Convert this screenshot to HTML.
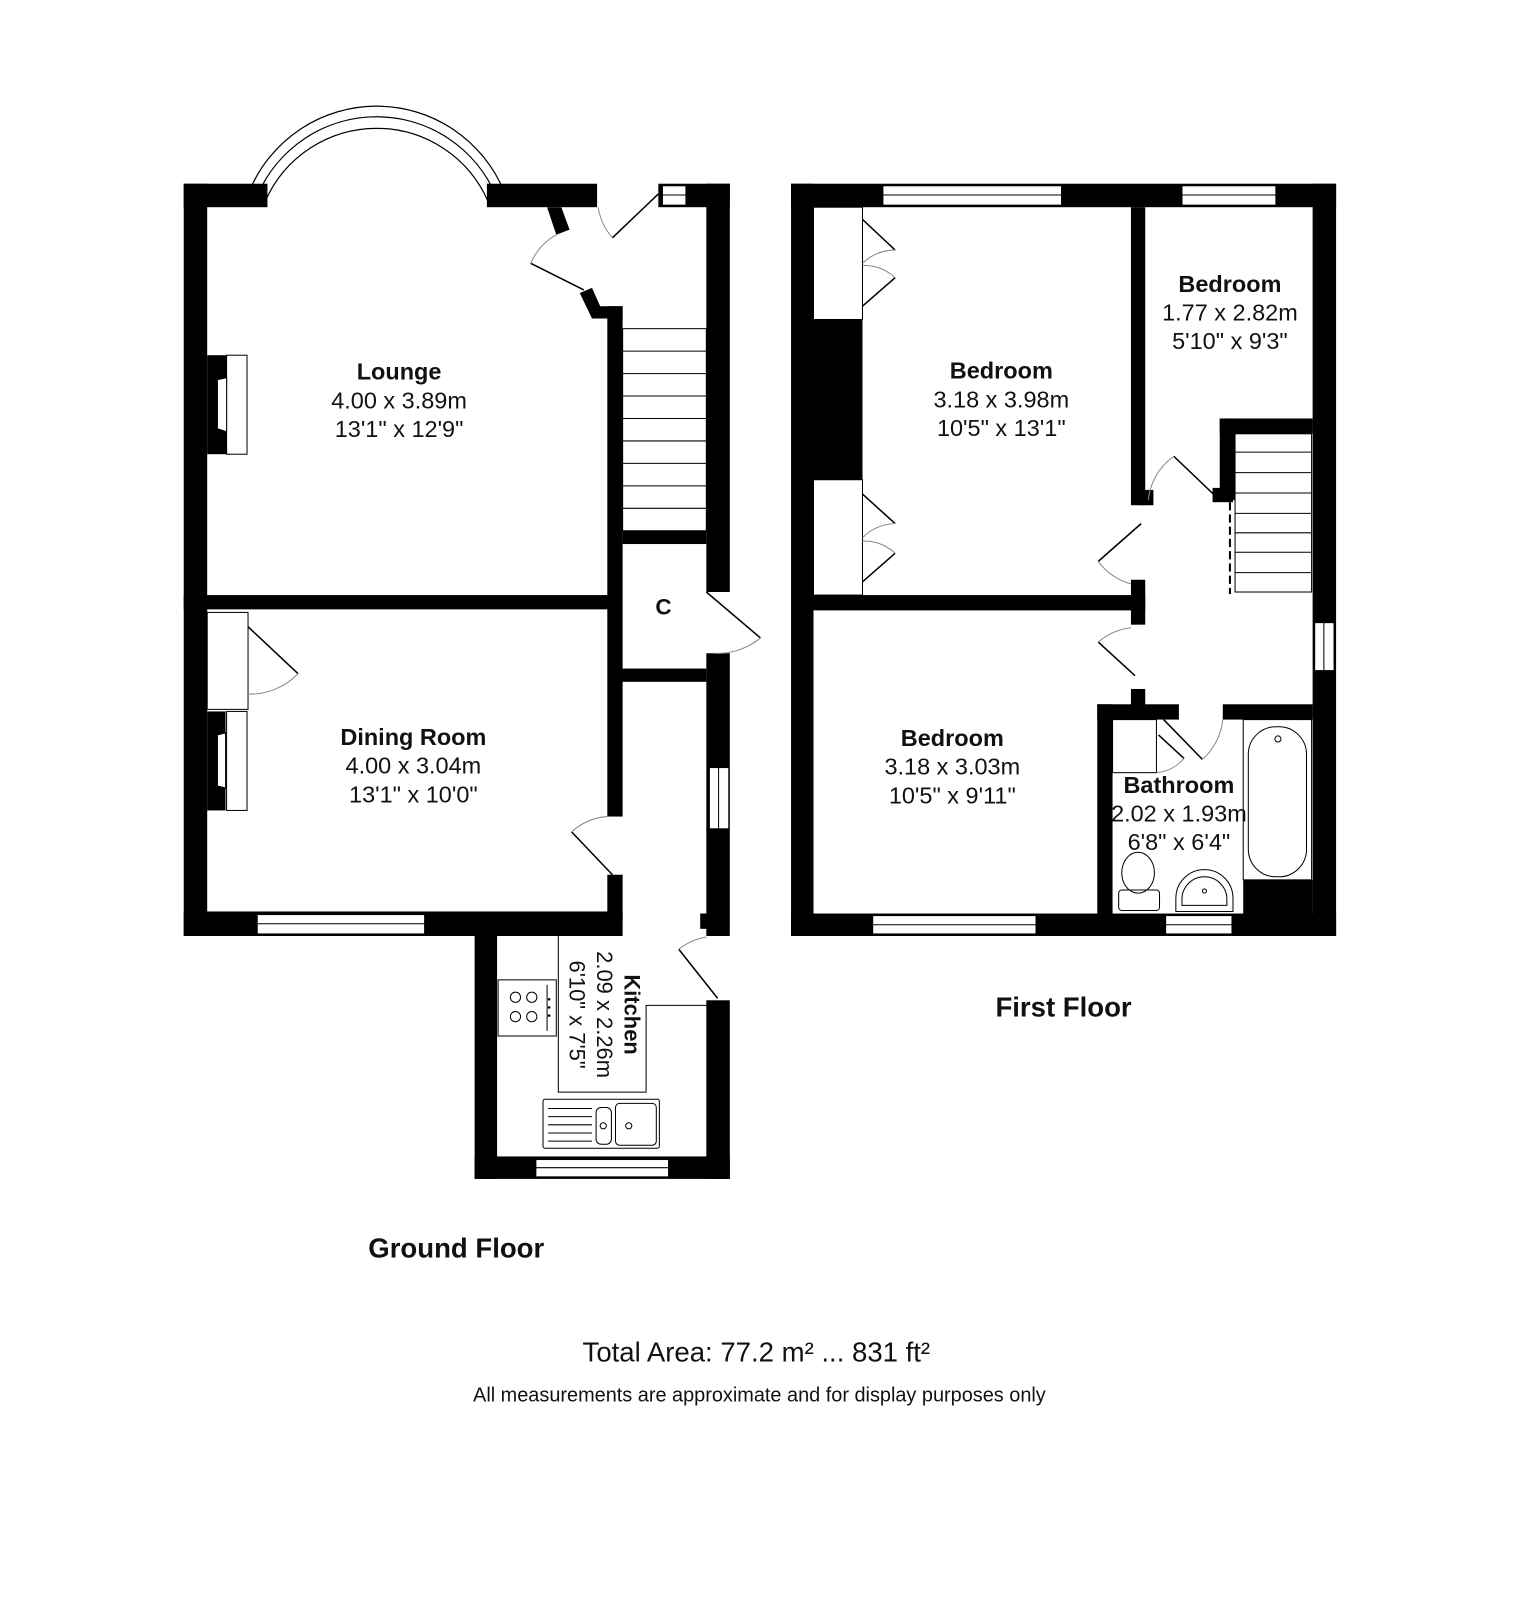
<!DOCTYPE html>
<html><head><meta charset="utf-8"><style>
html,body{margin:0;padding:0;background:#fff;}
svg{display:block;}
text{font-family:"Liberation Sans",Arial,sans-serif;fill:#111;}
.b{font-weight:bold;}
</style></head><body>
<svg width="1519" height="1600" viewBox="0 0 1519 1600" xmlns="http://www.w3.org/2000/svg">
<g transform="scale(1.0207)">
<!-- ================= GROUND FLOOR ================= -->
<g fill="#000">
<rect x="180" y="180" width="23" height="737"/>
<rect x="180" y="180" width="82" height="23"/>
<rect x="477" y="180" width="108" height="23"/>
<rect x="645" y="180" width="70" height="23"/>
<rect x="692" y="180" width="23" height="400"/>
<polygon points="536,203 550,203 558,225 545,230"/>
<polygon points="568,287 580,282 588,300 610,300 610,312 580,312"/>
<rect x="595" y="300" width="15" height="500"/>
<rect x="610" y="520" width="82" height="13"/>
<rect x="597" y="655" width="95" height="13"/>
<rect x="692" y="640" width="23" height="277"/>
<rect x="686" y="895" width="8" height="15"/>
<rect x="595" y="857" width="15" height="45"/>
<rect x="180" y="893" width="430" height="24"/>
<rect x="465" y="910" width="22" height="245"/>
<rect x="465" y="1133" width="250" height="22"/>
<rect x="692" y="980" width="23" height="175"/>
<rect x="180" y="583" width="429" height="14"/>
<rect x="203" y="348" width="20" height="97"/>
<rect x="203" y="697" width="18" height="97"/>
</g>
<g fill="#fff" stroke="#000" stroke-width="1">
<rect x="649" y="182" width="23" height="19"/>
<rect x="695" y="752" width="19" height="60"/>
<rect x="252" y="896" width="164" height="19"/>
<rect x="525" y="1136" width="130" height="17"/>
<rect x="222" y="348" width="20" height="97"/>
<rect x="222" y="697" width="20" height="97"/>
<rect x="203" y="600" width="40" height="95"/>
</g>
<g stroke="#000" stroke-width="1" fill="none">
<line x1="649" y1="191" x2="672" y2="191"/>
<line x1="704" y1="752" x2="704" y2="812"/>
<line x1="252" y1="905" x2="416" y2="905"/>
<line x1="525" y1="1144" x2="655" y2="1144"/>
<polygon points="213,372 222,370 222,423 213,420" fill="#fff"/>
<polygon points="213,720 221,718 221,772 213,770" fill="#fff"/>
</g>
<g fill="none" stroke="#000" stroke-width="1.2">
<path d="M244,188 A135,135 0 0 1 494,188"/>
<path d="M252,192 A127,127 0 0 1 486,192"/>
<path d="M260,197 A119,119 0 0 1 478,197"/>
<line x1="244" y1="188" x2="260" y2="197"/>
<line x1="494" y1="188" x2="478" y2="197"/>
</g>
<g stroke="#000" stroke-width="1" fill="none">
<rect x="610" y="322" width="82" height="198"/>
<line x1="610" y1="344" x2="692" y2="344"/>
<line x1="610" y1="366" x2="692" y2="366"/>
<line x1="610" y1="388" x2="692" y2="388"/>
<line x1="610" y1="410" x2="692" y2="410"/>
<line x1="610" y1="432" x2="692" y2="432"/>
<line x1="610" y1="454" x2="692" y2="454"/>
<line x1="610" y1="476" x2="692" y2="476"/>
<line x1="610" y1="498" x2="692" y2="498"/>
</g>
<g stroke="#000" stroke-width="1.5" fill="none">
<line x1="600" y1="233" x2="645" y2="190"/>
<line x1="520" y1="258" x2="572" y2="284"/>
<line x1="692" y1="580" x2="745" y2="625"/>
<line x1="560" y1="815" x2="600" y2="857"/>
<line x1="665" y1="930" x2="703" y2="978"/>
<line x1="243" y1="614" x2="292" y2="660"/>
</g>
<g stroke="#888" stroke-width="1" fill="none">
<path d="M586,203 A60,60 0 0 0 600,233"/>
<path d="M545,230 A58,58 0 0 0 520,258"/>
<path d="M745,625 A65,65 0 0 1 700,640"/>
<path d="M595,800 A58,58 0 0 0 560,815"/>
<path d="M692,918 A60,60 0 0 0 665,930"/>
<path d="M292,660 A65,65 0 0 1 243,680"/>
</g>
<g stroke="#000" stroke-width="1" fill="none">
<polyline points="547,910 547,1070 633,1070 633,985 692,985"/>
<rect x="488" y="960" width="57" height="55"/>
<line x1="536" y1="965" x2="536" y2="1010"/>
<circle cx="505" cy="977" r="5"/><circle cx="521" cy="977" r="5"/>
<circle cx="505" cy="996" r="5"/><circle cx="521" cy="996" r="5"/>
<rect x="532" y="1077" width="114" height="48" rx="2"/>
<line x1="537" y1="1086" x2="580" y2="1086"/>
<line x1="537" y1="1094" x2="580" y2="1094"/>
<line x1="537" y1="1102" x2="580" y2="1102"/>
<line x1="537" y1="1110" x2="580" y2="1110"/>
<line x1="537" y1="1118" x2="580" y2="1118"/>
<rect x="584" y="1085" width="15" height="36" rx="5"/>
<rect x="603" y="1081" width="40" height="41" rx="4"/>
<circle cx="591" cy="1103" r="3"/><circle cx="616" cy="1103" r="3"/>
</g>
<g fill="#000"><circle cx="538" cy="979" r="1.3"/><circle cx="538" cy="987" r="1.3"/><circle cx="538" cy="995" r="1.3"/></g>
<text x="391" y="372" font-size="23" text-anchor="middle" class="b">Lounge</text>
<text x="391" y="400" font-size="23" text-anchor="middle">4.00 x 3.89m</text>
<text x="391" y="428" font-size="23" text-anchor="middle">13'1" x 12'9"</text>
<text x="405" y="730" font-size="23" text-anchor="middle" class="b">Dining Room</text>
<text x="405" y="758" font-size="23" text-anchor="middle">4.00 x 3.04m</text>
<text x="405" y="786" font-size="23" text-anchor="middle">13'1" x 10'0"</text>
<text x="650" y="602" font-size="22" text-anchor="middle" class="b">C</text>
<g transform="translate(587,994) rotate(90)">
<text x="0" y="-25" font-size="21.5" text-anchor="middle" class="b">Kitchen</text>
<text x="0" y="2" font-size="21.5" text-anchor="middle">2.09 x 2.26m</text>
<text x="0" y="29" font-size="21.5" text-anchor="middle">6'10" x 7'5"</text>
</g>
<text x="447" y="1232" font-size="27" text-anchor="middle" class="b">Ground Floor</text>

<!-- ================= FIRST FLOOR ================= -->
<g fill="#000">
<rect x="775" y="180" width="22" height="737"/>
<rect x="775" y="180" width="534" height="23"/>
<rect x="1286" y="180" width="23" height="737"/>
<rect x="775" y="895" width="534" height="22"/>
<rect x="1108" y="203" width="14" height="292"/>
<rect x="1118" y="480" width="12" height="15"/>
<rect x="797" y="583" width="325" height="15"/>
<rect x="1108" y="568" width="14" height="44"/>
<rect x="1108" y="675" width="14" height="17"/>
<rect x="1075" y="690" width="80" height="15"/>
<rect x="1198" y="690" width="88" height="15"/>
<rect x="1075" y="690" width="15" height="205"/>
<rect x="1195" y="410" width="91" height="15"/>
<rect x="1195" y="410" width="15" height="80"/>
<rect x="1188" y="478" width="20" height="14"/>
<rect x="797" y="313" width="48" height="157"/>
<rect x="1218" y="862" width="68" height="33"/>
</g>
<g fill="#fff" stroke="#000" stroke-width="1">
<rect x="865" y="182" width="175" height="19"/>
<rect x="1158" y="182" width="92" height="19"/>
<rect x="1288" y="610" width="19" height="47"/>
<rect x="855" y="897" width="160" height="18"/>
<rect x="1142" y="897" width="65" height="18"/>
<rect x="797" y="203" width="48" height="110"/>
<rect x="797" y="470" width="48" height="113"/>
</g>
<g stroke="#000" stroke-width="1" fill="none">
<line x1="865" y1="191" x2="1040" y2="191"/>
<line x1="1158" y1="191" x2="1250" y2="191"/>
<line x1="1297" y1="610" x2="1297" y2="657"/>
<line x1="855" y1="906" x2="1015" y2="906"/>
<line x1="1142" y1="906" x2="1207" y2="906"/>
<rect x="1210" y="425" width="75" height="155"/>
<line x1="1210" y1="443" x2="1285" y2="443"/>
<line x1="1210" y1="463" x2="1285" y2="463"/>
<line x1="1210" y1="483" x2="1285" y2="483"/>
<line x1="1210" y1="503" x2="1285" y2="503"/>
<line x1="1210" y1="522" x2="1285" y2="522"/>
<line x1="1210" y1="541" x2="1285" y2="541"/>
<line x1="1210" y1="561" x2="1285" y2="561"/>
<line x1="1205" y1="492" x2="1205" y2="582" stroke-width="2" stroke-dasharray="8,4"/>
<rect x="1218" y="705" width="67" height="157"/>
<rect x="1223" y="712" width="57" height="147" rx="27"/>
<circle cx="1252" cy="724" r="3"/>
<rect x="1090" y="705" width="43" height="52"/>
<ellipse cx="1115" cy="855" rx="16" ry="20"/>
<rect x="1096" y="872" width="40" height="20" rx="3"/>
<path d="M1152,893 L1152,880 A28,28 0 0 1 1208,880 L1208,893 Z"/>
<path d="M1158,887 L1158,881 A22,22 0 0 1 1202,881 L1202,887 Z"/>
<circle cx="1180" cy="873" r="2"/>
</g>
<g stroke="#000" stroke-width="1.5" fill="none">
<line x1="845" y1="215" x2="877" y2="245"/>
<line x1="845" y1="300" x2="877" y2="272"/>
<line x1="845" y1="484" x2="877" y2="513"/>
<line x1="845" y1="570" x2="877" y2="542"/>
<line x1="1150" y1="447" x2="1195" y2="490"/>
<line x1="1076" y1="550" x2="1118" y2="513"/>
<line x1="1076" y1="629" x2="1112" y2="662"/>
<line x1="1140" y1="705" x2="1178" y2="744"/>
<line x1="1135" y1="720" x2="1160" y2="743"/>
</g>
<g stroke="#888" stroke-width="1" fill="none">
<path d="M877,245 A45,45 0 0 0 845,258"/>
<path d="M877,272 A45,45 0 0 0 845,260"/>
<path d="M877,513 A45,45 0 0 0 845,527"/>
<path d="M877,542 A45,45 0 0 0 845,530"/>
<path d="M1150,447 A60,60 0 0 0 1125,490"/>
<path d="M1076,550 A60,60 0 0 0 1108,572"/>
<path d="M1076,629 A60,60 0 0 1 1108,615"/>
<path d="M1178,744 A60,60 0 0 0 1198,705"/>
<path d="M1160,743 A40,40 0 0 1 1133,757"/>
</g>
<text x="981" y="371" font-size="23" text-anchor="middle" class="b">Bedroom</text>
<text x="981" y="399" font-size="23" text-anchor="middle">3.18 x 3.98m</text>
<text x="981" y="427" font-size="23" text-anchor="middle">10'5" x 13'1"</text>
<text x="1205" y="286" font-size="23" text-anchor="middle" class="b">Bedroom</text>
<text x="1205" y="314" font-size="23" text-anchor="middle">1.77 x 2.82m</text>
<text x="1205" y="342" font-size="23" text-anchor="middle">5'10" x 9'3"</text>
<text x="933" y="731" font-size="23" text-anchor="middle" class="b">Bedroom</text>
<text x="933" y="759" font-size="23" text-anchor="middle">3.18 x 3.03m</text>
<text x="933" y="787" font-size="23" text-anchor="middle">10'5" x 9'11"</text>
<text x="1155" y="777" font-size="23" text-anchor="middle" class="b">Bathroom</text>
<text x="1155" y="805" font-size="23" text-anchor="middle">2.02 x 1.93m</text>
<text x="1155" y="833" font-size="23" text-anchor="middle">6'8" x 6'4"</text>
<text x="1042" y="996" font-size="27" text-anchor="middle" class="b">First Floor</text>

<text x="741" y="1334" font-size="27" text-anchor="middle">Total Area: 77.2 m² ... 831 ft²</text>
<text x="744" y="1373" font-size="19.5" text-anchor="middle">All measurements are approximate and for display purposes only</text>
</g>
</svg>
</body></html>
